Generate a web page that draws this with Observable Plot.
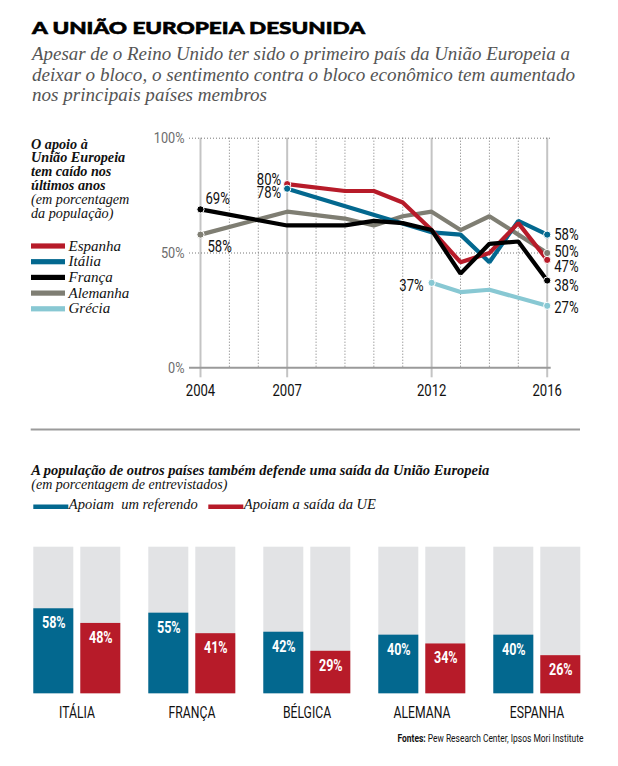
<!DOCTYPE html>
<html><head><meta charset="utf-8">
<script src="https://cdn.jsdelivr.net/npm/d3@7"></script>
<script src="https://cdn.jsdelivr.net/npm/@observablehq/plot@0.6"></script>
<style>
body{margin:0;background:#fff;}
#root{position:relative;width:618px;height:766px;overflow:hidden;background:#fff;}
#root svg{position:absolute;left:0;}
</style></head>
<body><div id="root"></div>
<script>
// ---------- DATA ----------
const anos = [2004,2005,2006,2007,2008,2009,2010,2011,2012,2013,2014,2015,2016];
const espanha  = [null,null,null,80,null,77,77,72,60,46,50,63,47];
const italia   = [null,null,null,78,null,null,null,null,59,58,46,64,58];
const franca   = [69,null,null,62,null,62,64,63,60,41,54,55,38];
const alemanha = [58,null,null,68,null,65,62,66,68,60,66,58,50];
const grecia   = [null,null,null,null,null,null,null,null,37,33,34,null,27];
const series = ["Espanha","Itália","França","Alemanha","Grécia"];
const anosRotulados = [2004,2007,2012,2016];
const yTicks = [0,50,100];

const paises = ["ITÁLIA","FRANÇA","BÉLGICA","ALEMANA","ESPANHA"];
const referendo = [58,55,42,40,40];
const saida = [48,41,29,34,26];
const grupos = ["referendo","saida"];
const grupoRotulos = ["Apoiam  um referendo","Apoiam a saída da UE"];
const total = 100;

// ---------- STYLES ----------
const cores = {"Espanha":"#b71b29","Itália":"#03688f","França":"#000000","Alemanha":"#7f7e73","Grécia":"#88c8d3"};
const coresBarras = ["#03688f","#b71b29"];
const ordemDesenho = ["Grécia","Alemanha","Itália","Espanha","França"];
const rotIni = {
  "Espanha":{anchor:"end",dx:-6,dy:-4},
  "Itália":{anchor:"end",dx:-6,dy:4},
  "França":{anchor:"start",dx:5,dy:-11},
  "Alemanha":{anchor:"start",dx:7,dy:12},
  "Grécia":{anchor:"end",dx:-8,dy:3}
};
const rotFim = {"Itália":0,"Alemanha":-1,"Espanha":7,"França":5,"Grécia":2};
const COND = 'Roboto, "Liberation Sans", sans-serif';
const SERIF = '"Liberation Serif","DejaVu Serif",serif';

const valores = {"Espanha":espanha,"Itália":italia,"França":franca,"Alemanha":alemanha,"Grécia":grecia};
const linhas = [];
series.forEach(s => anos.forEach((a,j) => { if (valores[s][j] != null) linhas.push({serie:s, ano:a, valor:valores[s][j]}); }));
const extremos = series.map(s => { const d = linhas.filter(r => r.serie === s); return {serie:s, ini:d[0], fim:d[d.length-1]}; });

const root = d3.select("#root");

function pctSmall(svg, sel, size, weight){
  d3.select(svg).selectAll(sel).each(function(){
    const t = d3.select(this); const s = t.text();
    if (!s.endsWith("%")) return;
    t.text(null);
    t.append("tspan").text(s.slice(0,-1));
    const p = t.append("tspan").attr("font-size", size).text("%");
    if (weight) p.attr("font-weight", weight);
  });
}
// horizontal condensing of text around its anchor (no condensed fonts installed)
function condense(svg, sel, sx){
  d3.select(svg).selectAll(sel).each(function(){
    const t = d3.select(this);
    if (t.attr("data-c")) return;
    const x0 = +(t.attr("x") || 0);
    const tr = t.attr("transform") || "";
    t.attr("transform", (tr + " scale(" + sx + ",1)").trim()).attr("x", x0 / sx).attr("data-c", 1);
  });
}

// ---------- LINE CHART ----------
const marksL = [
  Plot.ruleX(anos.filter(a => !anosRotulados.includes(a)), {stroke:"#777", strokeDasharray:"1,2", strokeWidth:1}),
  Plot.ruleX(anosRotulados, {stroke:"#c4c4c4", strokeWidth:2, insetBottom:-10}),
  Plot.ruleY(yTicks.filter(v => v > 0), {stroke:"#777", strokeDasharray:"1,2", strokeWidth:1, insetLeft:-11, insetRight:-4}),
  Plot.ruleY([0], {stroke:"#9a9a9a", strokeWidth:2, insetLeft:-11, insetRight:-4}),
  Plot.axisY({ticks:yTicks, tickSize:0, tickPadding:16, tickFormat:d => d + "%", fill:"#6d6d6d", fontSize:15.5, fontFamily:COND, label:null, ariaLabel:"yticks"}),
  Plot.axisX({ticks:anosRotulados, tickSize:0, tickPadding:17, tickFormat:d => String(d), fill:"#111", fontSize:16, fontFamily:COND, label:null})
];
ordemDesenho.forEach(s => {
  marksL.push(Plot.line(linhas.filter(r => r.serie === s), {x:"ano", y:"valor", stroke:cores[s], strokeWidth:4.2, strokeLinejoin:"miter", strokeLinecap:"butt"}));
});
extremos.forEach(e => {
  marksL.push(Plot.dot([e.ini, e.fim], {x:"ano", y:"valor", r:3.6, fill:cores[e.serie], stroke:"white", strokeWidth:1}));
  const o = rotIni[e.serie];
  marksL.push(Plot.text([e.ini], {x:"ano", y:"valor", text:d => d.valor + "%", textAnchor:o.anchor, dx:o.dx, dy:o.dy, fontSize:16, fontFamily:COND, fill:"#111"}));
  marksL.push(Plot.text([e.fim], {x:"ano", y:"valor", text:d => d.valor + "%", textAnchor:"start", dx:7, dy:rotFim[e.serie], fontSize:16, fontFamily:COND, fill:"#111"}));
});
const svgL = Plot.plot({
  width:618, height:290, marginLeft:200, marginRight:71.3, marginTop:17.7, marginBottom:42.7,
  x:{domain:[2004,2016], axis:null}, y:{domain:[0,100], axis:null},
  style:{background:"transparent", fontFamily:COND},
  marks:marksL
});
pctSmall(svgL, 'g[aria-label="yticks"] text', "11px");
condense(svgL, "text", 0.82);
svgL.style.top = "120px";
root.node().appendChild(svgL);

// ---------- BAR CHART ----------
const barras = [];
paises.forEach((p,i) => { barras.push({pais:p, grupo:grupos[0], valor:referendo[i]}); barras.push({pais:p, grupo:grupos[1], valor:saida[i]}); });
const svgB = Plot.plot({
  width:618, height:200, marginLeft:30.7, marginRight:36.7, marginTop:16.7, marginBottom:36.7,
  fx:{domain:paises, paddingInner:0.245, paddingOuter:0, label:null, axis:null},
  x:{domain:grupos, paddingInner:0.156, paddingOuter:0, axis:null},
  y:{domain:[0,100], axis:null},
  color:{domain:grupos, range:coresBarras},
  style:{background:"transparent", fontFamily:COND},
  marks:[
    Plot.barY(barras, {fx:"pais", x:"grupo", y:() => total, fill:"#e2e3e5"}),
    Plot.barY(barras, {fx:"pais", x:"grupo", y:"valor", fill:"grupo"}),
    Plot.text(barras, {fx:"pais", x:"grupo", y:"valor", text:d => d.valor + "%", dy:14, fill:"white", fontWeight:"bold", fontSize:17, fontFamily:COND, ariaLabel:"rotulos"}),
    Plot.axisFx({anchor:"bottom", tickSize:0, tickPadding:12, fontSize:16.5, fontFamily:COND, fill:"#111", label:null})
  ]
});
pctSmall(svgB, 'g[aria-label="rotulos"] text', "14px", "normal");
condense(svgB, 'g[aria-label="rotulos"] text', 0.84);
condense(svgB, 'text', 0.74);
svgB.style.top = "530px";
root.node().appendChild(svgB);

// ---------- TEXT OVERLAY ----------
const ov = root.append("svg").attr("width",618).attr("height",766).style("top","0px").style("pointer-events","none");
ov.append("text").attr("x",32).attr("y",34).attr("font-family","Lato, Roboto, sans-serif").attr("font-weight",900)
  .attr("font-size",17.5).attr("textLength",333).attr("lengthAdjust","spacingAndGlyphs").attr("fill","#000")
  .attr("stroke","#000").attr("stroke-width",0.6).text("A UNIÃO EUROPEIA DESUNIDA");
const sub = ["Apesar de o Reino Unido ter sido o primeiro país da União Europeia a","deixar o bloco, o sentimento contra o bloco econômico tem aumentado","nos principais países membros"];
const subLen = [538,543,235];
sub.forEach((t,i) => ov.append("text").attr("x",32).attr("y",60 + i*20.6).attr("font-family",SERIF).attr("font-style","italic")
  .attr("font-size",19.5).attr("fill","#555").attr("textLength",subLen[i]).attr("lengthAdjust","spacingAndGlyphs").text(t));

const cab = [["O apoio à",1],["União Europeia",1],["tem caído nos",1],["últimos anos",1],["(em porcentagem",0],["da população)",0]];
cab.forEach((c,i) => ov.append("text").attr("x",31).attr("y",148.5 + i*13.8).attr("font-family",SERIF).attr("font-style","italic")
  .attr("font-weight",c[1] ? "bold" : "normal").attr("font-size",14.2).attr("fill","#111").text(c[0]));
series.forEach((s,i) => {
  const cy = 246 + i*15.7;
  ov.append("rect").attr("x",31).attr("y",cy-2.6).attr("width",34).attr("height",5.2).attr("fill",cores[s]);
  ov.append("text").attr("x",68.5).attr("y",cy+4.6).attr("font-family",SERIF).attr("font-style","italic").attr("font-size",15).attr("fill","#111").text(s);
});

ov.append("line").attr("x1",30.7).attr("x2",580).attr("y1",429.5).attr("y2",429.5).attr("stroke","#9b9b9b").attr("stroke-width",2);
ov.append("text").attr("x",31.3).attr("y",475).attr("font-family",SERIF).attr("font-style","italic").attr("font-weight","bold")
  .attr("font-size",14.5).attr("fill","#111").text("A população de outros países também defende uma saída da União Europeia");
ov.append("text").attr("x",31.3).attr("y",488.5).attr("font-family",SERIF).attr("font-style","italic")
  .attr("font-size",14).attr("fill","#111").text("(em porcentagem de entrevistados)");
const legX = [33.3,208.3];
grupoRotulos.forEach((g,i) => {
  ov.append("rect").attr("x",legX[i]).attr("y",504.5).attr("width",35).attr("height",4.5).attr("fill",coresBarras[i]);
  ov.append("text").attr("x",legX[i]+35.5).attr("y",508.5).attr("font-family",SERIF).attr("font-style","italic")
    .attr("font-size",14.5).attr("fill","#111").style("white-space","pre").text(g);
});
const fonte = ov.append("text").attr("font-family",COND).attr("font-size",11.5).attr("fill","#111");
fonte.append("tspan").attr("font-weight","bold").text("Fontes:");
fonte.append("tspan").text(" Pew Research Center, Ipsos Mori Institute");
const fl = fonte.node().getComputedTextLength() || 250;
fonte.attr("transform", "translate(397.5,741.5) scale(" + (186 / fl) + ",1)");
</script></body></html>
